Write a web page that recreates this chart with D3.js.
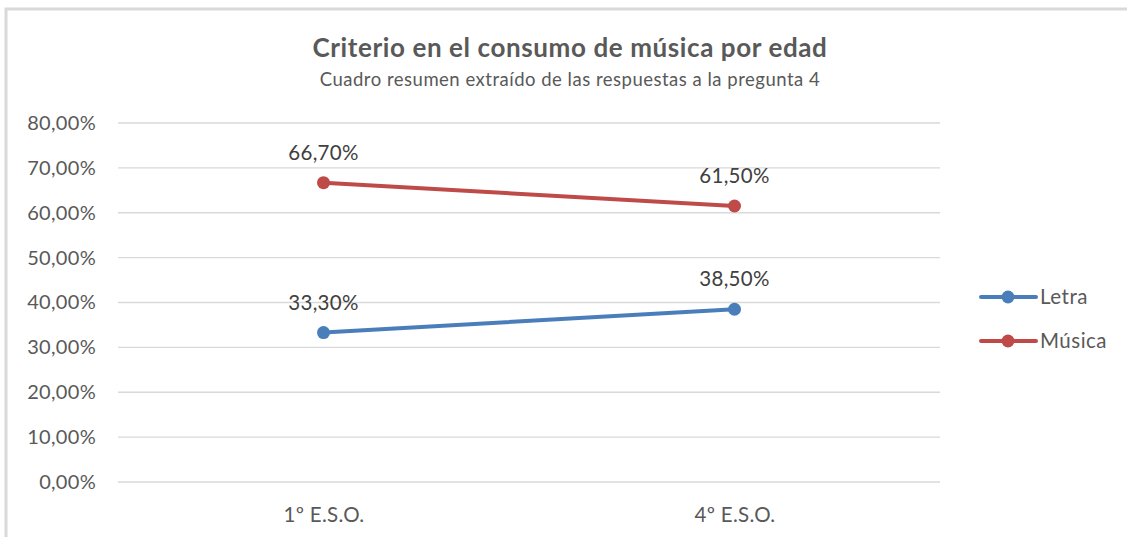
<!DOCTYPE html>
<html>
<head>
<meta charset="utf-8">
<script src="https://cdn.jsdelivr.net/npm/d3@7"></script>
<style>
  body { margin: 0; background: #fff; }
  svg { font-family: Lato, "Open Sans", sans-serif; }
  .grid line { stroke: #d9d9d9; stroke-width: 1.3; }
  .axis text { fill: #595959; }
</style>
</head>
<body>
<div id="chart"></div>
<script>
// data
const categories = ['1º E.S.O.', '4º E.S.O.'];
const seriesNames = ['Letra', 'Música'];
const letraValues = [0.333, 0.385];
const musicaValues = [0.667, 0.615];
const yTicks = [0, 0.1, 0.2, 0.3, 0.4, 0.5, 0.6, 0.7, 0.8];
const colors = ['#4a7ebb', '#be4b48'];

const series = [
  { name: seriesNames[0], values: letraValues, color: colors[0] },
  { name: seriesNames[1], values: musicaValues, color: colors[1] }
];

const width = 1127, height = 537;
const margin = { top: 123, left: 118, right: 187, bottom: 55 };

const svg = d3.select('#chart').append('svg')
    .attr('width', width)
    .attr('height', height);

// frame (only top + left edges visible)
svg.append('path')
    .attr('d', 'M6,' + height + 'V9H' + width)
    .attr('fill', 'none')
    .attr('stroke', '#d9d9d9')
    .attr('stroke-width', 3);

// title
svg.append('text')
    .attr('x', 570).attr('y', 57)
    .attr('text-anchor', 'middle')
    .attr('font-size', 26)
    .attr('font-weight', 'bold')
    .attr('letter-spacing', 0.6)
    .attr('fill', '#595959')
    .text('Criterio en el consumo de música por edad');

svg.append('text')
    .attr('x', 570).attr('y', 86)
    .attr('text-anchor', 'middle')
    .attr('font-size', 18.5)
    .attr('letter-spacing', 0.5)
    .attr('fill', '#595959')
    .text('Cuadro resumen extraído de las respuestas a la pregunta 4');

let chartGroup = svg.append('g').attr('transform', 'translate(' + margin.left + ',' + margin.top + ')');

const plotW = width - margin.left - margin.right;
const plotH = height - margin.top - margin.bottom;

//-----X-------
let x = d3.scalePoint().domain(categories).range([0, plotW]).padding(0.5);

//-----Y-------
let y = d3.scaleLinear().domain([0, 0.8]).range([plotH, 0]);

const fmt = d => d3.format('.2f')(d * 100).replace('.', ',') + '%';

// gridlines
chartGroup.append('g').attr('class', 'grid')
    .selectAll('line')
    .data(yTicks)
    .enter().append('line')
        .attr('x1', 0).attr('x2', plotW)
        .attr('y1', d => y(d)).attr('y2', d => y(d));

let yAxis = d3.axisLeft(y).tickValues(yTicks).tickFormat(fmt).tickSize(0).tickPadding(22);
chartGroup.append('g').attr('class', 'axis y')
    .call(yAxis)
    .call(g => g.select('.domain').remove())
    .selectAll('text')
        .attr('font-size', 20).attr('letter-spacing', 0.3)
        .attr('font-family', 'Lato, sans-serif');

let xAxis = d3.axisBottom(x).tickSize(0).tickPadding(25);
chartGroup.append('g').attr('class', 'axis x')
    .attr('transform', 'translate(0,' + plotH + ')')
    .call(xAxis)
    .call(g => g.select('.domain').remove())
    .selectAll('text')
        .attr('font-size', 20.5).attr('letter-spacing', 0.3)
        .attr('font-family', 'Lato, sans-serif');

//-----Lines-------
const line = d3.line()
    .x((d, i) => x(categories[i]))
    .y(d => y(d));

const sGroups = chartGroup.selectAll('.series')
    .data(series)
    .enter().append('g').attr('class', 'series');

sGroups.append('path')
    .attr('d', d => line(d.values))
    .attr('fill', 'none')
    .attr('stroke', d => d.color)
    .attr('stroke-width', 4)
    .attr('stroke-linecap', 'round');

sGroups.selectAll('circle')
    .data(d => d.values.map((v, i) => ({ v: v, i: i, color: d.color })))
    .enter().append('circle')
        .attr('cx', d => x(categories[d.i]))
        .attr('cy', d => y(d.v))
        .attr('r', 6.5)
        .attr('fill', d => d.color);

sGroups.selectAll('.label')
    .data(d => d.values.map((v, i) => ({ v: v, i: i })))
    .enter().append('text')
        .attr('class', 'label')
        .attr('x', d => x(categories[d.i]))
        .attr('y', d => y(d.v) - 23)
        .attr('text-anchor', 'middle')
        .attr('font-size', 20.5)
        .attr('letter-spacing', 0.3)
        .attr('fill', '#404040')
        .text(d => fmt(d.v));

//-----Legend-------
const legend = svg.append('g').attr('transform', 'translate(981,297)');
const items = legend.selectAll('g')
    .data(series)
    .enter().append('g')
        .attr('transform', (d, i) => 'translate(0,' + (i * 44) + ')');

items.append('line')
    .attr('x1', 0).attr('x2', 55)
    .attr('stroke', d => d.color)
    .attr('stroke-width', 4)
    .attr('stroke-linecap', 'round');
items.append('circle')
    .attr('cx', 27).attr('r', 6.5)
    .attr('fill', d => d.color);
items.append('text')
    .attr('x', 59).attr('y', 7)
    .attr('font-size', 20.5)
    .attr('letter-spacing', 0.5)
    .attr('fill', '#595959')
    .text(d => d.name);
</script>
</body>
</html>
